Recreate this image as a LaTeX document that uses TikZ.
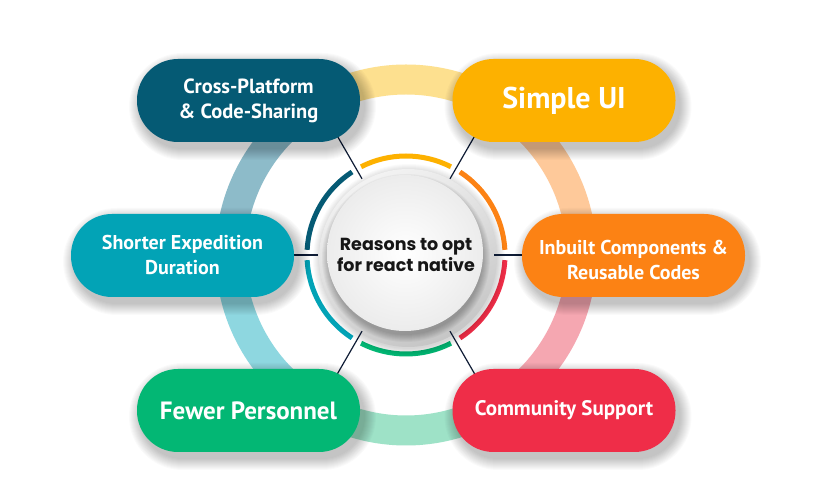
\documentclass[tikz,border=0pt]{standalone}
\usepackage{fontspec}
\setmainfont{PT Sans}
\newfontfamily\popfont{Poppins}
\usetikzlibrary{calc}
\definecolor{cBlue}{HTML}{055A74}
\definecolor{cYellow}{HTML}{FDB100}
\definecolor{cTeal}{HTML}{02A3B6}
\definecolor{cOrange}{HTML}{FC8214}
\definecolor{cGreen}{HTML}{03B774}
\definecolor{cRed}{HTML}{EF2D48}
\definecolor{cLine}{HTML}{0F1C35}
\definecolor{rYellow}{HTML}{FDE08F}
\definecolor{rPeach}{HTML}{FEC99A}
\definecolor{rPink}{HTML}{F5A7B1}
\definecolor{rGreen}{HTML}{9EE2C7}
\definecolor{rTeal}{HTML}{8ED7E0}
\definecolor{rSlate}{HTML}{8DBBC9}
\definecolor{txtDark}{HTML}{161616}
\newcommand\pillshadow[2]{%
  \foreach \i in {1,...,12}{%
    \pgfmathsetmacro\rr{41.5+\i}%
    \fill[black, opacity=0.018, rounded corners=\rr pt]
      (#1-111.5-\i+4, #2-41.5-\i-6) rectangle (#1+111.5+\i+4, #2+41.5+\i-6);
  }}
\begin{document}
\begin{tikzpicture}[x=1pt,y=1pt,
  pill/.style={rectangle, rounded corners=41pt, minimum width=223pt,
    minimum height=83pt, text=white, align=center, inner sep=0pt},
  conn/.style={draw=cLine, line width=1.2pt},
  bigring/.style={line width=30pt},
  smallring/.style={line width=5pt}]
\useasboundingbox[fill=white] (0,0) rectangle (825,500);
\coordinate (O) at (406,245);
% big pastel ring
\draw[bigring, draw=rYellow] ($(O)+(45:175.5)$) arc[start angle=45, end angle=135, radius=175.5];
\draw[bigring, draw=rSlate] ($(O)+(135:175.5)$) arc[start angle=135, end angle=180, radius=175.5];
\draw[bigring, draw=rTeal] ($(O)+(180:175.5)$) arc[start angle=180, end angle=225, radius=175.5];
\draw[bigring, draw=rGreen] ($(O)+(225:175.5)$) arc[start angle=225, end angle=315, radius=175.5];
\draw[bigring, draw=rPink] ($(O)+(315:175.5)$) arc[start angle=315, end angle=360, radius=175.5];
\draw[bigring, draw=rPeach] ($(O)+(0:175.5)$) arc[start angle=0, end angle=45, radius=175.5];
% small coloured ring
\draw[smallring, draw=cYellow] ($(O)+(63:99)$) arc[start angle=63, end angle=117, radius=99];
\draw[smallring, draw=cBlue] ($(O)+(123:99)$) arc[start angle=123, end angle=177, radius=99];
\draw[smallring, draw=cTeal] ($(O)+(183:99)$) arc[start angle=183, end angle=237, radius=99];
\draw[smallring, draw=cGreen] ($(O)+(243:99)$) arc[start angle=243, end angle=297, radius=99];
\draw[smallring, draw=cRed] ($(O)+(303:99)$) arc[start angle=303, end angle=357, radius=99];
\draw[smallring, draw=cOrange] ($(O)+(3:99)$) arc[start angle=3, end angle=57, radius=99];
% central discs
\foreach \i in {1,...,8}{\fill[black, opacity=0.02] (409,240) circle ({88+\i});}
\shade[top color=gray!10, bottom color=gray!45, shading angle=25] (408,242) circle (89);
\foreach \i in {1,...,8}{\fill[black, opacity=0.035] (406,242) circle ({76+\i});}
\shade[inner color=white, outer color=gray!15] (405,247) circle (78);
\node[font=\popfont\bfseries\fontsize{17.5}{21}\selectfont, text=txtDark, align=center] (ctr) at (406,245) {Reasons to opt\\for react native};
% connectors
\foreach \a in {0,60,120,180,240,300}{
  \coordinate (in\a) at ($(O)+(\a:88)$);
  \coordinate (out\a) at ($(O)+(\a:150)$);
  \draw[conn] (in\a) -- (out\a);
}
% pill shadows
\pillshadow{248.5}{399.5}
\pillshadow{564}{399.5}
\pillshadow{182.5}{244.5}
\pillshadow{633.5}{244.5}
\pillshadow{248.5}{89.5}
\pillshadow{564}{89.5}
% pills
\node[pill, fill=cBlue, font=\bfseries\fontsize{20.5}{25}\selectfont] (cross) at (248.5,399.5) {Cross-Platform\\\& Code-Sharing};
\node[pill, fill=cYellow, font=\bfseries\fontsize{30}{31}\selectfont] (simple) at (564,399.5) {Simple UI};
\node[pill, fill=cTeal, font=\bfseries\fontsize{20}{25}\selectfont] (shorter) at (182.5,244.5) {Shorter Expedition\\Duration};
\node[pill, fill=cOrange, font=\bfseries\fontsize{20}{25}\selectfont] (inbuilt) at (633.5,244.5) {};
\node[font=\bfseries\fontsize{20}{25}\selectfont, text=white, align=center] (inbuiltText) at (633.5,240) {Inbuilt Components \&\\Reusable Codes};
\node[pill, fill=cGreen, font=\bfseries\fontsize{25}{27}\selectfont] (fewer) at (248.5,89.5) {Fewer Personnel};
\node[pill, fill=cRed, font=\bfseries\fontsize{21}{23}\selectfont] (community) at (564,89.5) {Community Support};
\end{tikzpicture}
\end{document}
